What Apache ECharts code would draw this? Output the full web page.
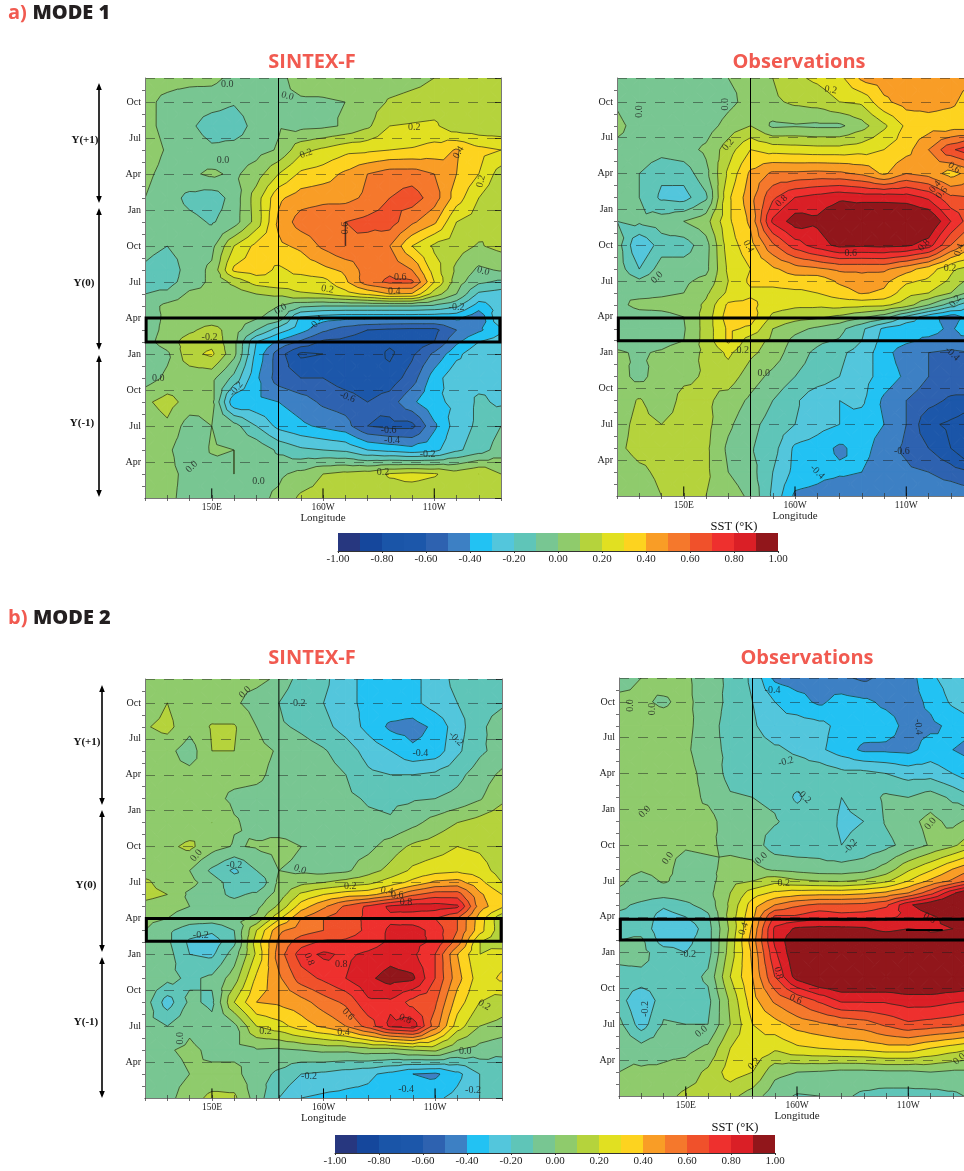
<!DOCTYPE html>
<html><head><meta charset="utf-8">
<style>html,body{margin:0;padding:0;background:#fff;overflow:hidden}#c{width:964px;height:1171px}</style>
<script src="https://cdn.jsdelivr.net/npm/echarts@6/dist/echarts.min.js"></script>
</head><body><div id="c"></div>
<script>
const lons=[120,130,140,150,160,170,180,190,200,210,220,230,240,250,260,270,280];
const monthRows=[35,33,31,29,27,25,23,21,19,18,17,16,15,14,13,12,10,8,6,4,2,0];
const monthNames=['Jan','Feb','Mar','Apr','May','Jun','Jul','Aug','Sep','Oct','Nov','Dec'];
const lonLabels={150:'150E',200:'160W',250:'110W'};
const bandColors=['#27377f','#15479c','#1a55a8','#1c57aa','#2e62b0','#3d80c4','#22c2f3','#53c6dc','#5fc5b8','#78c692','#8fcb6c','#b5d33c','#e1e021','#fdd31f','#f99d26','#f5782c','#f0512b','#ee302e','#da1f26','#91161b'];

const sintexMode1=[
[0.03,0.03,0.03,0.03,-0.03,-0.05,-0.02,0.03,0.04,0.05,0.05,0.05,0.07,0.1,0.12,0.1,0.12],
[0.02,-0.02,-0.05,-0.06,-0.09,-0.04,-0.01,-0.01,-0.01,0.0,0.05,0.11,0.13,0.14,0.13,0.12,0.12],
[0.03,-0.03,-0.08,-0.15,-0.16,-0.06,-0.01,-0.03,-0.02,0.01,0.08,0.2,0.21,0.22,0.13,0.12,0.12],
[0.05,-0.01,-0.04,-0.08,-0.06,-0.04,0.01,0.17,0.22,0.27,0.28,0.3,0.31,0.34,0.41,0.33,0.3],
[0.02,-0.03,-0.02,0.02,-0.02,0.05,0.2,0.32,0.35,0.42,0.5,0.55,0.55,0.5,0.4,0.3,0.15],
[0.0,-0.05,-0.13,-0.16,-0.06,0.15,0.38,0.45,0.47,0.47,0.52,0.6,0.65,0.55,0.35,0.2,0.11],
[0.0,-0.04,-0.07,-0.11,-0.05,0.14,0.42,0.55,0.58,0.6,0.63,0.65,0.52,0.42,0.2,0.15,0.1],
[-0.06,-0.1,-0.05,-0.03,0.2,0.33,0.38,0.42,0.52,0.6,0.56,0.5,0.3,0.18,0.14,0.09,0.13],
[-0.12,-0.17,-0.05,0.02,0.32,0.35,0.28,0.33,0.37,0.42,0.55,0.58,0.5,0.25,0.08,-0.02,0.01],
[-0.12,-0.14,-0.05,0.02,0.13,0.24,0.28,0.25,0.26,0.38,0.56,0.62,0.62,0.3,0.05,-0.08,-0.12],
[-0.1,-0.08,0.02,0.01,0.04,0.1,0.12,0.19,0.2,0.26,0.32,0.4,0.39,0.15,0.0,-0.22,-0.25],
[-0.06,0.03,0.05,0.05,0.05,0.04,0.0,-0.08,-0.1,-0.1,-0.1,-0.1,-0.1,-0.12,-0.18,-0.35,-0.25],
[-0.05,0.02,0.04,0.04,0.04,0.01,-0.04,-0.32,-0.36,-0.38,-0.38,-0.38,-0.38,-0.38,-0.38,-0.48,-0.2],
[-0.05,0.03,0.08,0.14,0.05,-0.1,-0.25,-0.36,-0.48,-0.55,-0.6,-0.62,-0.63,-0.63,-0.5,-0.42,-0.32],
[-0.04,0.05,0.15,0.17,0.03,-0.3,-0.42,-0.52,-0.62,-0.63,-0.66,-0.68,-0.67,-0.6,-0.42,-0.3,-0.25],
[-0.08,-0.02,0.17,0.22,0.03,-0.33,-0.55,-0.72,-0.7,-0.63,-0.63,-0.72,-0.62,-0.48,-0.33,-0.22,-0.2],
[-0.05,0.02,0.03,0.03,-0.13,-0.38,-0.55,-0.6,-0.6,-0.65,-0.67,-0.66,-0.55,-0.35,-0.22,-0.24,-0.22],
[0.08,0.14,0.06,0.03,-0.38,-0.38,-0.4,-0.45,-0.52,-0.55,-0.6,-0.55,-0.42,-0.32,-0.28,-0.18,-0.22],
[0.03,0.08,-0.05,0.0,-0.06,-0.2,-0.33,-0.38,-0.42,-0.46,-0.6,-0.63,-0.63,-0.42,-0.25,-0.18,-0.1],
[0.03,0.02,-0.07,0.01,0.0,-0.02,-0.12,-0.18,-0.2,-0.22,-0.3,-0.33,-0.36,-0.33,-0.22,-0.15,-0.05],
[0.03,0.03,-0.03,-0.05,0.0,-0.03,-0.02,0.03,0.1,0.13,0.15,0.21,0.23,0.21,0.15,0.2,0.1],
[0.04,0.02,-0.03,-0.04,-0.05,-0.03,0.02,0.12,0.14,0.14,0.15,0.15,0.14,0.13,0.12,0.11,0.1]];

const obsMode1=[
[-0.03,-0.05,-0.06,-0.05,-0.07,0.0,0.03,0.1,0.18,0.22,0.27,0.42,0.45,0.45,0.44,0.43,0.42],
[-0.01,-0.06,-0.08,-0.07,-0.1,-0.03,0.04,0.08,0.12,0.14,0.2,0.22,0.38,0.44,0.44,0.42,0.35],
[0.02,-0.03,-0.06,-0.07,-0.05,0.04,0.1,-0.02,-0.01,-0.02,-0.02,0.06,0.18,0.32,0.35,0.34,0.34],
[-0.02,-0.03,-0.06,-0.04,0.02,0.15,0.3,0.26,0.25,0.24,0.24,0.26,0.3,0.36,0.5,0.68,0.78],
[-0.03,-0.1,-0.18,-0.16,-0.03,0.22,0.42,0.52,0.52,0.53,0.52,0.48,0.38,0.5,0.46,0.36,0.45],
[-0.04,-0.1,-0.22,-0.24,-0.12,0.28,0.46,0.68,0.8,0.84,0.88,0.86,0.86,0.85,0.78,0.62,0.6],
[-0.1,-0.08,-0.05,0.0,0.06,0.28,0.42,0.82,0.95,0.92,1.0,1.05,1.05,1.05,1.02,0.8,0.62],
[-0.05,-0.3,-0.15,-0.15,-0.04,0.25,0.36,0.58,0.75,0.85,0.93,0.92,0.93,0.92,0.85,0.6,0.42],
[-0.04,-0.2,-0.05,-0.05,-0.03,0.22,0.3,0.38,0.45,0.48,0.52,0.52,0.52,0.44,0.35,0.22,0.15],
[-0.02,-0.08,-0.02,-0.02,0.03,0.2,0.32,0.33,0.35,0.33,0.42,0.46,0.43,0.32,0.28,0.18,0.05],
[0.0,-0.02,-0.01,0.0,0.08,0.22,0.28,0.27,0.28,0.3,0.35,0.41,0.38,0.24,0.2,0.1,-0.05],
[-0.02,0.02,0.02,0.03,0.12,0.32,0.33,0.24,0.22,0.22,0.24,0.23,0.22,0.15,0.0,-0.15,-0.3],
[-0.05,-0.03,-0.02,0.0,0.14,0.35,0.35,0.18,0.14,0.12,0.08,0.02,-0.05,-0.22,-0.36,-0.45,-0.35],
[-0.04,-0.06,-0.04,-0.01,0.14,0.32,0.28,0.1,0.03,-0.02,-0.07,-0.18,-0.32,-0.38,-0.36,-0.42,-0.3],
[-0.03,-0.04,-0.03,0.0,0.14,0.32,0.14,0.08,-0.03,-0.08,-0.11,-0.2,-0.34,-0.38,-0.42,-0.44,-0.42],
[0.01,-0.01,0.01,0.05,0.12,0.22,0.12,0.06,-0.06,-0.12,-0.18,-0.24,-0.36,-0.46,-0.5,-0.52,-0.5],
[0.04,-0.03,0.05,0.08,0.11,0.15,0.05,-0.03,-0.1,-0.14,-0.2,-0.26,-0.34,-0.42,-0.5,-0.52,-0.55],
[0.04,0.11,0.04,0.13,0.12,0.06,-0.02,-0.1,-0.18,-0.28,-0.3,-0.28,-0.42,-0.5,-0.56,-0.62,-0.62],
[0.06,0.13,0.1,0.13,0.13,0.02,-0.07,-0.14,-0.2,-0.26,-0.3,-0.35,-0.4,-0.5,-0.68,-0.72,-0.8],
[0.08,0.13,0.13,0.13,0.12,-0.02,-0.09,-0.16,-0.32,-0.35,-0.42,-0.36,-0.45,-0.52,-0.6,-0.7,-0.85],
[0.04,0.08,0.12,0.12,0.12,0.0,-0.06,-0.2,-0.33,-0.36,-0.38,-0.4,-0.46,-0.48,-0.5,-0.55,-0.6],
[0.03,0.05,0.1,0.12,0.1,0.05,-0.02,-0.22,-0.42,-0.44,-0.5,-0.46,-0.46,-0.4,-0.42,-0.42,-0.45]];

const sintexMode2=[
[0.03,0.02,0.03,0.03,0.03,0.03,-0.02,-0.15,-0.17,-0.28,-0.32,-0.33,-0.33,-0.25,-0.17,-0.15,-0.18],
[0.03,0.1,0.03,0.03,0.02,-0.05,-0.1,-0.2,-0.2,-0.27,-0.33,-0.33,-0.33,-0.25,-0.2,-0.15,-0.12],
[0.09,0.13,0.03,0.11,0.11,0.0,-0.08,-0.12,-0.17,-0.24,-0.33,-0.42,-0.44,-0.38,-0.24,-0.13,-0.03],
[0.03,0.03,-0.05,0.1,0.1,0.03,-0.01,-0.05,-0.09,-0.15,-0.24,-0.3,-0.38,-0.36,-0.22,-0.12,-0.06],
[0.03,0.03,0.03,0.03,0.03,0.02,-0.03,-0.03,-0.06,-0.1,-0.18,-0.2,-0.2,-0.18,-0.13,-0.05,0.02],
[0.03,0.03,0.04,0.03,-0.02,-0.03,-0.04,-0.05,-0.05,-0.08,-0.11,-0.12,-0.11,-0.1,-0.07,-0.01,0.08],
[0.03,0.03,0.04,0.1,0.01,-0.03,-0.05,-0.05,-0.05,-0.05,-0.08,-0.09,-0.03,0.04,0.1,0.14,0.17],
[0.03,0.08,0.12,0.04,-0.01,0.01,0.03,0.0,-0.04,-0.05,-0.03,0.05,0.12,0.15,0.2,0.18,0.12],
[0.04,0.03,0.0,-0.12,-0.22,-0.1,0.0,-0.02,-0.04,-0.02,0.06,0.13,0.22,0.26,0.28,0.25,0.15],
[0.13,0.03,0.03,-0.05,-0.15,-0.2,0.02,0.07,0.1,0.14,0.17,0.25,0.33,0.42,0.44,0.33,0.2],
[0.14,0.1,-0.02,-0.07,-0.12,-0.08,0.04,0.22,0.3,0.35,0.37,0.45,0.58,0.65,0.65,0.42,0.3],
[0.06,0.03,0.0,-0.04,-0.06,-0.03,0.12,0.35,0.48,0.62,0.72,0.82,0.85,0.85,0.82,0.45,0.32],
[0.03,0.0,-0.05,-0.05,-0.03,0.02,0.28,0.5,0.6,0.66,0.72,0.78,0.74,0.7,0.6,0.35,0.12],
[0.0,-0.08,-0.15,-0.18,-0.1,0.2,0.48,0.55,0.6,0.65,0.72,0.82,0.85,0.76,0.6,0.34,0.13],
[0.0,-0.08,-0.22,-0.26,-0.12,0.25,0.52,0.66,0.72,0.72,0.75,0.82,0.83,0.78,0.55,0.2,0.14],
[-0.02,-0.06,-0.2,-0.22,-0.05,0.22,0.55,0.75,0.82,0.78,0.82,0.86,0.82,0.7,0.4,0.2,0.25],
[-0.02,-0.07,-0.12,-0.08,0.05,0.32,0.48,0.65,0.72,0.8,0.88,0.94,0.92,0.7,0.44,0.24,0.32],
[-0.05,-0.25,-0.08,-0.12,0.2,0.4,0.42,0.46,0.55,0.62,0.78,0.78,0.66,0.62,0.35,0.2,0.15],
[-0.06,-0.1,-0.02,-0.07,-0.03,0.2,0.26,0.35,0.42,0.5,0.64,0.82,0.86,0.55,0.25,0.1,0.07],
[-0.03,-0.01,0.02,-0.02,-0.03,-0.01,-0.02,0.0,0.02,0.02,0.05,0.05,0.1,0.12,0.0,-0.04,-0.08],
[-0.08,-0.04,0.0,0.02,0.03,-0.06,-0.12,-0.2,-0.22,-0.25,-0.28,-0.33,-0.4,-0.42,-0.33,-0.2,-0.15],
[-0.1,-0.03,0.05,0.13,0.12,-0.05,-0.2,-0.3,-0.32,-0.33,-0.33,-0.38,-0.36,-0.32,-0.27,-0.2,-0.15]];

const obsMode2=[
[-0.03,0.0,0.03,0.02,-0.06,-0.12,-0.22,-0.42,-0.45,-0.44,-0.48,-0.52,-0.47,-0.45,-0.32,-0.25,-0.2],
[0.02,0.01,-0.01,0.02,-0.04,-0.13,-0.2,-0.3,-0.36,-0.42,-0.36,-0.38,-0.42,-0.44,-0.38,-0.28,-0.2],
[0.0,0.03,0.03,0.03,-0.06,-0.14,-0.18,-0.28,-0.25,-0.27,-0.33,-0.35,-0.36,-0.43,-0.42,-0.38,-0.35],
[0.01,0.02,0.04,0.02,-0.07,-0.12,-0.14,-0.18,-0.22,-0.28,-0.35,-0.42,-0.42,-0.43,-0.36,-0.4,-0.44],
[0.0,0.03,0.03,0.04,-0.04,-0.13,-0.14,-0.13,-0.14,-0.13,-0.17,-0.17,-0.2,-0.24,-0.24,-0.3,-0.38],
[0.02,0.03,0.05,0.04,-0.02,-0.09,-0.1,-0.12,-0.22,-0.13,-0.2,-0.16,-0.08,-0.1,-0.05,-0.12,-0.2],
[0.03,0.04,0.02,0.02,0.04,-0.06,-0.07,-0.09,-0.14,-0.12,-0.22,-0.2,-0.09,-0.03,0.03,-0.03,0.04],
[0.03,0.03,0.02,0.01,0.02,-0.03,-0.05,-0.15,-0.16,-0.15,-0.2,-0.17,-0.13,-0.06,0.01,0.08,0.18],
[0.03,0.01,0.03,-0.04,-0.03,0.04,0.03,-0.02,-0.04,-0.06,-0.06,-0.04,0.04,0.18,0.28,0.4,0.5],
[0.02,-0.04,0.01,-0.03,-0.04,0.07,0.1,0.17,0.12,0.1,0.09,0.12,0.18,0.3,0.42,0.52,0.65],
[-0.02,-0.05,-0.05,-0.05,-0.03,0.1,0.25,0.32,0.35,0.36,0.36,0.38,0.42,0.5,0.66,0.88,1.05],
[-0.08,-0.12,-0.18,-0.12,-0.06,0.12,0.35,0.5,0.58,0.62,0.62,0.63,0.68,0.88,0.98,1.05,1.05],
[-0.12,-0.13,-0.25,-0.2,-0.12,0.14,0.38,0.72,0.72,0.78,0.74,0.75,0.78,0.82,0.88,0.95,1.0],
[-0.12,-0.14,-0.27,-0.28,-0.14,0.12,0.42,0.82,0.92,0.93,0.93,0.92,0.85,0.9,0.88,0.9,0.95],
[-0.1,-0.08,-0.25,-0.23,-0.14,0.14,0.45,0.82,1.0,1.05,1.05,1.05,1.05,1.05,0.95,0.95,0.95],
[-0.08,-0.07,-0.15,-0.2,-0.14,0.15,0.42,0.78,1.0,1.05,1.05,1.05,1.05,1.05,1.05,1.05,1.05],
[-0.12,-0.12,-0.12,-0.15,-0.08,0.2,0.4,0.7,0.95,1.05,1.05,1.05,1.05,1.05,1.05,1.05,1.02],
[-0.15,-0.3,-0.14,-0.15,-0.13,0.12,0.36,0.52,0.62,0.72,0.82,0.82,0.82,0.85,0.85,0.82,0.8],
[-0.07,-0.25,-0.09,-0.1,-0.1,0.1,0.3,0.36,0.44,0.48,0.52,0.55,0.62,0.68,0.66,0.64,0.6],
[0.0,-0.06,-0.03,-0.03,0.02,0.2,0.28,0.22,0.28,0.3,0.32,0.33,0.36,0.36,0.3,0.25,0.2],
[0.0,0.02,0.02,0.05,0.12,0.25,0.2,0.03,0.0,-0.01,-0.03,-0.03,-0.02,-0.02,0.0,-0.02,-0.02],
[0.0,0.02,0.07,0.12,0.13,0.13,0.05,-0.06,-0.11,-0.1,-0.08,-0.12,-0.14,-0.14,-0.14,-0.12,-0.08]];

const labelsA1=[[157,34.5,'0.0',0],[184,33.5,'0.0',-15],[241,30.9,'0.2',0],[192.4,28.7,'0.2',20],[155,28.1,'0.0',0],[261,28.8,'0.4',60],[271,26.4,'0.2',75],[210,22.5,'0.6',90],[234.7,18.4,'0.6',0],[202,17.4,'0.2',-10],[232,17.2,'0.4',0],[272,18.9,'0.0',-15],[260,15.9,'-0.2',0],[181,15.75,'0.0',30],[197,14.6,'-0.4',45],[149,13.4,'-0.2',0],[126,10,'0.0',0],[161,9.1,'-0.2',50],[211,8.4,'-0.6',-20],[229.5,5.6,'-0.6',0],[231,4.8,'-0.4',0],[247,3.6,'-0.2',0],[141,2.6,'0.0',45],[171,1.4,'0.0',0],[227,2.1,'0.2',0]];
const labelsA2=[[130,32.2,'0.0',90],[168.6,32.8,'0.0',90],[216,34,'0.2',-10],[170,29.4,'0.2',50],[271.5,27.5,'0.6',-35],[263,25.9,'0.4',50],[266,25.4,'0.6',50],[194,24.7,'0.8',45],[179,20.9,'0.4',-60],[258,21,'0.8',45],[225,20.3,'0.6',0],[273.8,20.6,'0.4',70],[269.7,19.1,'0.2',0],[138,18.3,'0.0',45],[272,16.3,'0.2',50],[176.5,12.2,'0.2',0],[270.7,11.9,'-0.4',-45],[186,10.3,'0.0',0],[248,3.7,'-0.6',0],[210,2,'-0.4',-45]];
const labelsB1=[[164.8,33.9,'0.0',45],[188.4,33,'-0.2',0],[259.4,30,'-0.2',-45],[243.4,28.8,'-0.4',0],[143,20.25,'0.0',50],[160,19.4,'-0.2',0],[189.5,19.1,'0.0',-20],[212,17.7,'0.2',0],[228.4,17.3,'0.4',-10],[233,16.9,'0.6',0],[237,16.3,'0.8',0],[145,13.6,'-0.2',0],[193.6,11.6,'0.8',-70],[208,11.2,'0.8',0],[272,7.75,'0.2',-30],[211,7,'0.6',-45],[236.6,6.6,'0.8',-20],[174,5.6,'0.2',0],[209,5.5,'0.4',0],[136,5,'0.0',90],[263.5,3.9,'0.0',0],[193.5,1.8,'-0.2',0],[237,0.7,'-0.4',0],[267,0.6,'-0.2',0]];
const labelsB2=[[125,32.7,'0.0',90],[135,32.4,'0.0',90],[189,34,'-0.4',0],[254.5,30.9,'-0.4',-85],[195,28,'-0.2',15],[203,25.1,'-0.2',-45],[131.6,23.8,'0.0',45],[260,22.8,'0.0',50],[224,20.9,'-0.2',50],[142,19.9,'0.0',55],[184,19.9,'0.0',45],[194,17.8,'0.2',0],[176,14,'0.4',70],[259.5,14.9,'0.6',-30],[151,11.85,'-0.2',0],[191.6,10.3,'0.8',-75],[199.4,8.1,'0.6',-20],[132,7.3,'-0.2',90],[157,5.4,'0.0',40],[180.7,2.7,'0.2',45],[273,3.1,'0.0',40]];

const serif='"Liberation Serif",serif', sans='"Open Sans",sans-serif';
const panels=[
 {grid:{left:145,top:78,width:356,height:420,outerBoundsMode:'none'},data:sintexMode1,labels:labelsA1,box:[120.5,279.5,15,13],stray:[]},
 {grid:{left:617,top:78,width:356,height:418,outerBoundsMode:'none'},data:obsMode1,labels:labelsA2,box:[120.6,285,14.9,13],stray:[]},
 {grid:{left:145,top:679,width:357,height:419,outerBoundsMode:'none'},data:sintexMode2,labels:labelsB1,box:[120.6,279.6,15,13.1],stray:[]},
 {grid:{left:619,top:678,width:356,height:418,outerBoundsMode:'none'},data:obsMode2,labels:labelsB2,box:[120.6,285,14.8,13.06],stray:[[249,265.5,13.9]]}
];
const bars=[{left:338,top:533,width:440,height:18,outerBoundsMode:'none'},{left:335,top:1135,width:440,height:18,outerBoundsMode:'none'}];

const EPS=1e-4;
function band(k){return [k===0?-99:k/10-1, k===19?99:(k+1)/10-1];}
function triangles(g,i,j){
  const P=(a,b)=>[lons[b],monthRows[a],g[a][b]+EPS];
  const A=P(i,j),B=P(i,j+1),C=P(i+1,j+1),D=P(i+1,j);
  const M=[(A[0]+B[0])/2,(A[1]+D[1])/2,(A[2]+B[2]+C[2]+D[2])/4];
  return [[A,B,M],[B,C,M],[C,D,M],[D,A,M]];
}
function clip(poly,lev,keepAbove){
  const out=[];
  for(let n=0;n<poly.length;n++){
    const p=poly[n],q=poly[(n+1)%poly.length];
    const pin=keepAbove?p[2]>=lev:p[2]<=lev, qin=keepAbove?q[2]>=lev:q[2]<=lev;
    if(pin) out.push(p);
    if(pin!==qin){const t=(lev-p[2])/(q[2]-p[2]);out.push([p[0]+t*(q[0]-p[0]),p[1]+t*(q[1]-p[1]),lev]);}
  }
  return out;
}
function fillRender(g){return function(params,api){
  const i=api.value(2),j=api.value(3),children=[];
  triangles(g,i,j).forEach(tri=>{
    const vs=tri.map(p=>p[2]);
    const kmin=Math.min(19,Math.max(0,Math.floor((Math.min(...vs)+1)*10))),kmax=Math.max(0,Math.min(19,Math.floor((Math.max(...vs)+1)*10)));
    for(let k=kmin;k<=kmax;k++){
      const b=band(k);
      let poly=clip(tri,b[0],true); if(poly.length) poly=clip(poly,b[1],false);
      if(poly.length>=3) children.push({type:'polygon',shape:{points:poly.map(p=>api.coord([p[0],p[1]]))},style:{fill:bandColors[k],stroke:bandColors[k],lineWidth:1}});
    }
  });
  return {type:'group',children};
};}
function lineRender(g){return function(params,api){
  const i=api.value(2),j=api.value(3),children=[];
  triangles(g,i,j).forEach(tri=>{
    for(let k=1;k<20;k++){
      const lev=k/10-1,pts=[];
      for(let n=0;n<3;n++){
        const p=tri[n],q=tri[(n+1)%3];
        if((p[2]-lev)*(q[2]-lev)<0){const t=(lev-p[2])/(q[2]-p[2]);pts.push(api.coord([p[0]+t*(q[0]-p[0]),p[1]+t*(q[1]-p[1])]));}
      }
      if(pts.length===2) children.push({type:'line',shape:{x1:pts[0][0],y1:pts[0][1],x2:pts[1][0],y2:pts[1][1]},style:{stroke:'#1e2a1e',lineWidth:0.7}});
    }
  });
  return {type:'group',children};
};}

const grid=[],xAxis=[],yAxis=[],series=[];
panels.forEach((p,idx)=>{
  grid.push(p.grid);
  const y0=yAxis.length,x0=xAxis.length;
  xAxis.push({type:'value',gridIndex:idx,min:120,max:280,interval:10,position:'bottom',z:4,
    name:'Longitude',nameLocation:'middle',nameGap:15,nameTextStyle:{fontFamily:serif,fontSize:11,color:'#222'},
    axisLine:{lineStyle:{color:'#777',width:1}},axisTick:{inside:true,length:3,lineStyle:{color:'#333',width:0.7}},
    splitLine:{show:false},axisLabel:{fontFamily:serif,fontSize:9.5,color:'#222',margin:4,hideOverlap:false,showMinLabel:false,showMaxLabel:false,formatter:v=>lonLabels[v]||''}});
  xAxis.push({type:'value',gridIndex:idx,min:120,max:280,interval:10,position:'top',z:4,
    axisLine:{lineStyle:{color:'#777',width:1}},axisTick:{inside:true,length:3,lineStyle:{color:'#333',width:0.7}},
    splitLine:{show:false},axisLabel:{show:false}});
  yAxis.push({type:'value',gridIndex:idx,min:0,max:35,interval:3,position:'left',z:4,
    axisLine:{lineStyle:{color:'#777',width:1}},axisTick:{show:false},
    minorTick:{show:true,splitNumber:3,length:3,lineStyle:{color:'#333',width:0.7}},
    splitLine:{show:true,lineStyle:{type:[10,9],color:'rgba(30,30,30,0.6)',width:0.8}},
    axisLabel:{fontFamily:serif,fontSize:10,color:'#222',margin:4,showMinLabel:false,showMaxLabel:false,formatter:v=>v%3===0&&v>0&&v<35?monthNames[v%12]:''}});
  yAxis.push({type:'value',gridIndex:idx,min:0,max:35,interval:3,position:'right',z:4,
    axisLine:{lineStyle:{color:'#777',width:1}},axisTick:{inside:true,length:6,lineStyle:{color:'#111',width:0.8}},
    splitLine:{show:false},axisLabel:{show:false}});
  const cells=[];
  for(let i=0;i<monthRows.length-1;i++)for(let j=0;j<lons.length-1;j++)cells.push([lons[j],monthRows[i],i,j]);
  const base={type:'custom',coordinateSystem:'cartesian2d',xAxisIndex:x0,yAxisIndex:y0,silent:true,animation:false,clip:true,encode:{x:0,y:1}};
  series.push(Object.assign({},base,{z:2,data:cells,renderItem:fillRender(p.data)}));
  series.push(Object.assign({},base,{z:3,data:cells,renderItem:lineRender(p.data)}));
  series.push({type:'scatter',xAxisIndex:x0,yAxisIndex:y0,z:5,silent:true,symbolSize:1,itemStyle:{color:'rgba(0,0,0,0)'},animation:false,
    data:p.labels.map(l=>({name:l[2],value:[l[0],l[1]],label:{rotate:l[3]}})),
    label:{show:true,position:'inside',formatter:'{b}',fontFamily:serif,fontSize:10,color:'#1a1a1a'},
    labelLayout:{hideOverlap:false}});
  const overlay=[[180,35,180,0,1,'v']];
  [150,200,250].forEach(l=>overlay.push([l,0,l,0.8,1,'t']));
  p.stray.forEach(s=>overlay.push([s[0],s[2],s[1],s[2],2,'s']));
  series.push({type:'custom',coordinateSystem:'cartesian2d',xAxisIndex:x0,yAxisIndex:y0,z:6,silent:true,animation:false,clip:false,
    data:overlay.map(o=>o.slice(0,5)),encode:{x:0,y:1},
    renderItem:(params,api)=>{const a=api.coord([api.value(0),api.value(1)]),b=api.coord([api.value(2),api.value(3)]);
      return {type:'line',shape:{x1:a[0],y1:a[1],x2:b[0],y2:b[1]},style:{stroke:'#000',lineWidth:api.value(4)}};}});
  series.push({type:'custom',coordinateSystem:'cartesian2d',xAxisIndex:x0,yAxisIndex:y0,z:7,silent:true,animation:false,clip:false,
    data:[p.box],encode:{x:0,y:2},
    renderItem:(params,api)=>{const a=api.coord([api.value(0),api.value(2)]),b=api.coord([api.value(1),api.value(3)]);
      return {type:'rect',shape:{x:a[0],y:a[1],width:b[0]-a[0],height:b[1]-a[1]},style:{fill:'none',stroke:'#000',lineWidth:3}};}});
});
bars.forEach((b,n)=>{
  const gi=grid.length,xi=xAxis.length,yi=yAxis.length;
  grid.push(b);
  xAxis.push({type:'value',gridIndex:gi,min:-1,max:1,interval:0.2,z:4,
    axisLine:{lineStyle:{color:'#333',width:1}},axisTick:{inside:false,length:2,lineStyle:{color:'#333'}},splitLine:{show:false},
    axisLabel:{fontFamily:serif,fontSize:11,color:'#222',margin:3,hideOverlap:false,formatter:v=>v.toFixed(2)}});
  yAxis.push({type:'value',gridIndex:gi,min:0,max:1,show:false});
  series.push({type:'custom',coordinateSystem:'cartesian2d',xAxisIndex:xi,yAxisIndex:yi,silent:true,animation:false,
    data:bandColors.map((c,k)=>[k/10-1,(k+1)/10-1]),encode:{x:[0,1]},
    renderItem:(params,api)=>{const a=api.coord([api.value(0),1]),q=api.coord([api.value(1),0]);
      return {type:'rect',shape:{x:a[0],y:a[1],width:q[0]-a[0],height:q[1]-a[1]},style:{fill:bandColors[params.dataIndex],stroke:null}};}});
});

function arrow(x,y1,y2){
  return [{type:'line',shape:{x1:x,y1:y1+4,x2:x,y2:y2-4},style:{stroke:'#000',lineWidth:1.6}},
   {type:'polygon',shape:{points:[[x,y1],[x-2.8,y1+7],[x+2.8,y1+7]]},style:{fill:'#000'}},
   {type:'polygon',shape:{points:[[x,y2],[x-2.8,y2-7],[x+2.8,y2-7]]},style:{fill:'#000'}}];
}
function txt(x,y,t,o){return {type:'text',x,y,style:Object.assign({text:t,fontFamily:serif,fontSize:11,fill:'#111',align:'center',verticalAlign:'middle'},o||{})};}
const graphicEls=[].concat(
  arrow(99,83,203),arrow(99,208,350),arrow(99,355,497),
  arrow(102,685,805),arrow(102,810,952),arrow(102,957,1098),
  [txt(85,140,'Y(+1)',{fontWeight:'bold'}),txt(84,283,'Y(0)',{fontWeight:'bold'}),txt(82,423,'Y(-1)',{fontWeight:'bold'}),
   txt(87,742,'Y(+1)',{fontWeight:'bold'}),txt(86,885,'Y(0)',{fontWeight:'bold'}),txt(86,1022,'Y(-1)',{fontWeight:'bold'}),
   txt(734,527,'SST (°K)',{fontSize:12.5}),txt(735,1128,'SST (°K)',{fontSize:12.5})]
);
const rich={a:{fontFamily:sans,fontWeight:700,fontSize:20,color:'#f15a50'},b:{fontFamily:sans,fontWeight:800,fontSize:20,color:'#231f20'}};
const head=(text,x,y)=>({text,left:x,top:y,padding:0,textStyle:{rich,fontSize:20}});
const sub=(text,cx,y)=>({text,left:cx,top:y,padding:0,textAlign:'center',textVerticalAlign:'middle',textStyle:{fontFamily:sans,fontWeight:700,fontSize:20,color:'#f15a50'}});
const option={animation:false,backgroundColor:'#fff',
  title:[head('{a|a)} {b|MODE 1}',8,3),head('{a|b)} {b|MODE 2}',8,608),
    sub('SINTEX-F',312,62),sub('Observations',799,62),sub('SINTEX-F',312,658),sub('Observations',807,658)],
  grid,xAxis,yAxis,series,graphic:{elements:graphicEls}};
const chart=echarts.init(document.getElementById('c'),null,{renderer:'canvas'});
chart.setOption(option);
</script></body></html>
